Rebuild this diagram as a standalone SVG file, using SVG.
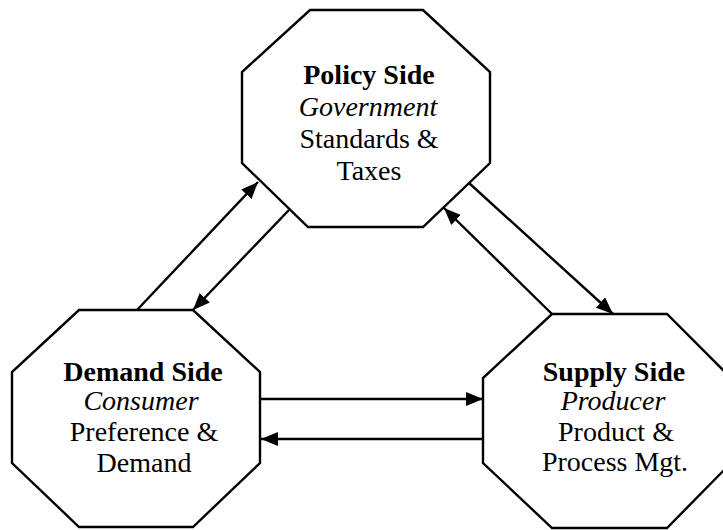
<svg xmlns="http://www.w3.org/2000/svg" width="723" height="530" viewBox="0 0 723 530">
  <style>
    .oct { fill: #ffffff; stroke: #000000; stroke-width: 2.4; stroke-linejoin: miter; }
    .link { stroke: #000000; stroke-width: 2.4; fill: none; marker-end: url(#head); }
    text { font-family: "Liberation Serif", "Times New Roman", serif; font-size: 28px; fill: #000000; text-anchor: middle; }
    .title { font-weight: bold; }
    .role { font-style: italic; }
  </style>
  <defs>
    <marker id="head" markerUnits="userSpaceOnUse" markerWidth="18" markerHeight="14" refX="17" refY="7" orient="auto">
      <path d="M0,0 L17,7 L0,14 z" fill="#000000"/>
    </marker>
  </defs>
  <rect width="723" height="530" fill="#ffffff"/>

  <g id="connectors">
    <line class="link" x1="137" y1="310" x2="258" y2="182"/>
    <line class="link" x1="289" y1="210" x2="193" y2="310"/>
    <line class="link" x1="469" y1="183" x2="613" y2="314"/>
    <line class="link" x1="552" y1="314" x2="444" y2="208"/>
    <line class="link" x1="261" y1="399" x2="483" y2="399"/>
    <line class="link" x1="483" y1="439" x2="261" y2="439"/>
  </g>

  <g id="policy">
    <polygon class="oct" points="310,10 423,10 490,72 490,163 423,227 308,227 242,163 242,72"/>
    <text class="title" x="369" y="84">Policy Side</text>
    <text class="role" x="368" y="116">Government</text>
    <text x="369" y="148">Standards &amp;</text>
    <text x="369" y="180">Taxes</text>
  </g>

  <g id="demand">
    <polygon class="oct" points="79,310 193,310 260,372 260,463 193,527 79,527 12,463 12,372"/>
    <text class="title" x="143" y="381">Demand Side</text>
    <text class="role" x="141" y="410">Consumer</text>
    <text x="144" y="441">Preference &amp;</text>
    <text x="144" y="472">Demand</text>
  </g>

  <g id="supply">
    <polygon class="oct" points="552,314 667,314 731,378 731,463 667,528 552,528 483,463 483,378"/>
    <text class="title" x="614" y="381">Supply Side</text>
    <text class="role" x="613" y="410">Producer</text>
    <text x="616" y="441">Product &amp;</text>
    <text x="615" y="471">Process Mgt.</text>
  </g>
</svg>
